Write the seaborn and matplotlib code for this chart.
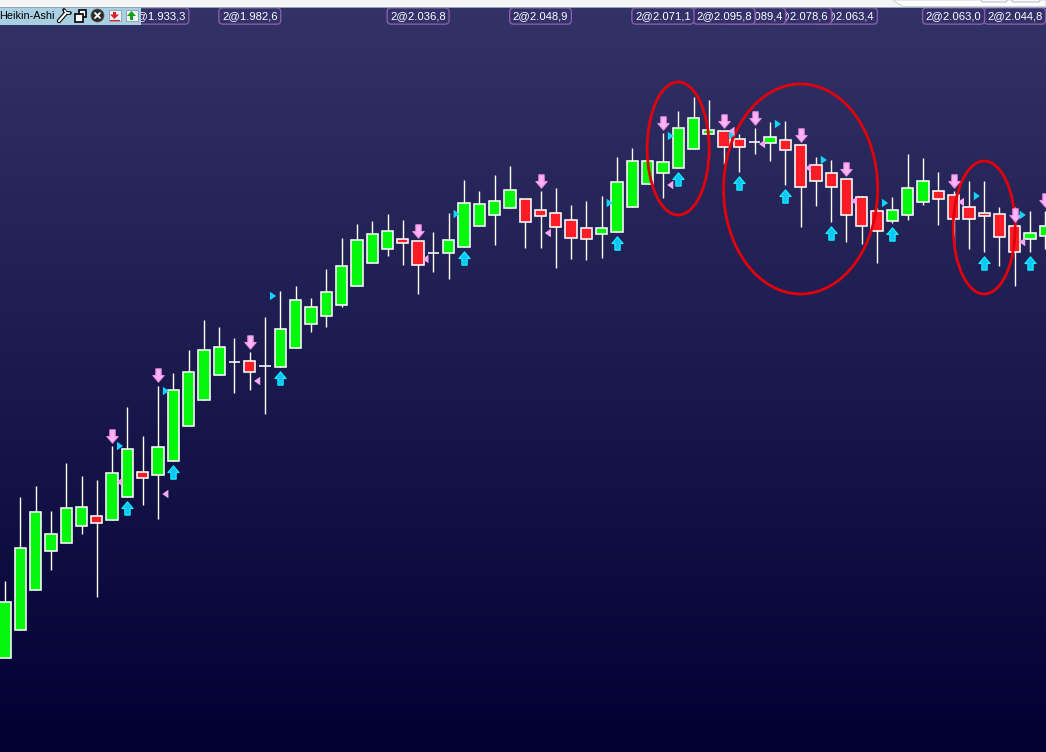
import numpy as np
import pandas as pd
import seaborn as sns
import matplotlib.pyplot as plt
from matplotlib.path import Path
from matplotlib.transforms import Affine2D
from matplotlib.patches import Ellipse, Rectangle, Circle, Polygon, FancyBboxPatch

# Heikin-Ashi candles, levels (y grows downwards)
wick_top = [581, 497, 486, 511, 463, 476, 480, 446, 407, 436, 386, 373, 350, 320, 327, 338, 352, 317, 291, 286,
            298, 269, 238, 224, 221, 214, 220, 241, 232, 213, 180, 191, 175, 166, 199, 191, 188, 205, 201, 196,
            157, 148, 161, 133, 111, 97, 100, 131, 134, 128, 122, 121, 145, 157, 160, 179, 196, 208, 197, 154,
            158, 172, 191, 181, 181, 207, 207, 211, 211]
body_top = [602, 548, 512, 534, 508, 507, 516, 473, 449, 472, 447, 390, 372, 350, 347, 362, 361, 366, 329, 300,
            307, 292, 266, 240, 234, 231, 239, 241, 253, 240, 203, 204, 201, 190, 199, 210, 213, 220, 228, 228,
            182, 161, 161, 162, 128, 118, 130, 131, 139, 142, 137, 140, 145, 165, 173, 179, 197, 211, 210, 188,
            181, 191, 195, 207, 213, 214, 226, 233, 226]
body_bottom = [658, 630, 590, 551, 543, 526, 523, 520, 497, 478, 475, 461, 426, 400, 375, 362, 372, 366, 367, 348,
               324, 316, 305, 286, 263, 249, 243, 265, 253, 253, 247, 226, 215, 208, 222, 216, 227, 238, 239, 234,
               232, 207, 184, 173, 168, 149, 134, 147, 147, 142, 143, 150, 187, 181, 187, 215, 226, 231, 221, 215,
               202, 199, 219, 219, 216, 237, 252, 239, 236]
wick_bottom = [658, 630, 590, 570, 543, 534, 597, 520, 497, 505, 519, 461, 426, 400, 375, 393, 390, 414, 367, 348,
               332, 327, 307, 286, 263, 256, 265, 294, 272, 279, 247, 226, 245, 208, 248, 248, 268, 259, 260, 258,
               232, 207, 184, 198, 168, 149, 134, 164, 172, 154, 161, 185, 227, 206, 222, 242, 244, 263, 223, 220,
               205, 225, 248, 249, 252, 266, 286, 252, 249]
is_green = [1, 1, 1, 1, 1, 1, 0, 1, 1, 0, 1, 1, 1, 1, 1, 1, 0, 1, 1, 1,
            1, 1, 1, 1, 1, 1, 0, 0, 1, 1, 1, 1, 1, 1, 0, 0, 0, 0, 0, 1,
            1, 1, 1, 1, 1, 1, 1, 0, 0, 1, 1, 0, 0, 0, 0, 0, 0, 0, 1, 1,
            1, 0, 0, 0, 0, 0, 0, 1, 1]

# signals
down_bars = [7, 10, 16, 27, 35, 43, 47, 49, 52, 55, 62, 66, 68]
down_y = [435.5, 374.5, 341.5, 230.5, 180.5, 122.5, 120.5, 117.5, 134.5, 168.5, 180.5, 215, 200]
up_bars = [8, 11, 18, 30, 40, 44, 48, 51, 54, 58, 64, 67]
up_y = [507.5, 471.5, 377.5, 257.5, 242.5, 178.5, 182.5, 195.5, 232.5, 233.5, 262.5, 262.5]
right_tick_y = [446, 391, 296, 214, 203, 136, 135, 124, 160, 203, 196, 215]
left_tick_y = [482, 494, 381, 259, 233, 185, 131, 144, 168, 201, 202, 242]

# order labels, the first ones sit on top of the next ones
label_bars = [10, 16, 27, 35, 43, 47, 49, 52, 55, 62, 66]
label_text = ['2@1.933,3', '2@1.982,6', '2@2.036,8', '2@2.048,9', '2@2.071,1', '2@2.095,8',
              '2@2.089,4', '2@2.078,6', '2@2.063,4', '2@2.063,0', '2@2.044,8']

circle_bars = [44, 52, 64]
circle_y = [148.5, 189, 227.5]
circle_w = [4.05, 10.07, 4.05]
circle_h = [133, 210, 133]

W, H = 1046, 752
BAR_STEP = 15.3
FIRST_BAR_X = 5

sns.set_theme(style='white')
plt.rcParams['font.family'] = ['Liberation Sans', 'DejaVu Sans']

fig = plt.figure(figsize=(W / 100, H / 100), dpi=100)

# background gradient
bg = fig.add_axes([0, 0, 1, 1], zorder=0)
grad = np.linspace(0, 1, 256)[:, None, None]
bg.imshow(np.array([51, 51, 104])[None, None, :] / 255 * (1 - grad) + np.array([0, 0, 51])[None, None, :] / 255 * grad,
          aspect='auto', extent=(0, 1, 0, 1))
bg.axis('off')

ax = fig.add_axes([0, 0, 1, 1], zorder=1)
ax.patch.set_alpha(0)

candles = pd.DataFrame({'bar': np.arange(len(body_top)), 'top': body_top, 'bottom': body_bottom,
                        'high': wick_top, 'low': wick_bottom, 'green': is_green})
candles['size'] = candles['bottom'] - candles['top']

ax.vlines(candles['bar'], candles['high'], candles['low'], color='white', lw=1.0, zorder=1)

for flag, col in [(1, '#03f80c'), (0, '#fb1c26')]:
    part = candles[candles['green'] == flag]
    sns.barplot(data=part, x='bar', y='size', bottom=part['top'].values, native_scale=True, width=0.74,
                color=col, saturation=1, edgecolor='white', linewidth=1.15, errorbar=None, ax=ax, zorder=2)

for b, y, w, h in zip(circle_bars, circle_y, circle_w, circle_h):
    ax.add_patch(Ellipse((b, y), w, h, fill=False, ec='#e4000a', lw=2.0, zorder=3))

# arrow and tick shapes
flip = Affine2D().scale(1, -1)
down_arrow = Path([(-2.6, -6.5), (2.6, -6.5), (2.6, 0), (5.5, 0), (0, 6.5), (-5.5, 0), (-2.6, 0), (-2.6, -6.5)],
                  closed=True).transformed(flip)
up_arrow = Path([(-2.6, 6.5), (2.6, 6.5), (2.6, 0), (5.5, 0), (0, -6.5), (-5.5, 0), (-2.6, 0), (-2.6, 6.5)],
                closed=True).transformed(flip)
right_tick = Path([(-2.5, -3.5), (2.5, 0), (-2.5, 3.5), (-2.5, -3.5)], closed=True)
left_tick = Path([(2.5, -3.5), (-2.5, 0), (2.5, 3.5), (2.5, -3.5)], closed=True)

sns.scatterplot(x=down_bars, y=down_y, marker=down_arrow, s=92, color='#fdb4f4', edgecolor='#f08ce6',
                linewidth=0.8, ax=ax, zorder=4)
sns.scatterplot(x=up_bars, y=up_y, marker=up_arrow, s=92, color='#10c4f4', edgecolor='#12f4ff',
                linewidth=0.8, ax=ax, zorder=4)
sns.scatterplot(x=np.array(up_bars) - 0.48, y=right_tick_y, marker=right_tick, s=38, color='#14d4f8',
                edgecolor='none', linewidth=0, ax=ax, zorder=4)
sns.scatterplot(x=np.array(down_bars[:-1]) + 0.48, y=left_tick_y, marker=left_tick, s=38, color='#f8a8f0',
                edgecolor='none', linewidth=0, ax=ax, zorder=4)

# order labels along the top
for i, (b, txt) in enumerate(zip(label_bars, label_text)):
    ax.text(b, 16, txt, color='white', fontsize=8.1, ha='center', va='center', zorder=20 - i,
            bbox=dict(boxstyle='round,pad=0.28,rounding_size=0.35', fc='#33306a', ec='#865fa6', lw=1.0))

ax.set_xlim(-FIRST_BAR_X / BAR_STEP, (W - FIRST_BAR_X) / BAR_STEP)
ax.set_ylim(H, 0)
ax.axis('off')

# window chrome, in pixels
ui = fig.add_axes([0, 0, 1, 1], zorder=2)
ui.set_xlim(0, W)
ui.set_ylim(H, 0)
ui.axis('off')
ui.patch.set_alpha(0)

ui.add_patch(Rectangle((0, 0), W, 7, fc='#f4f4f4', ec='none'))
ui.add_patch(Rectangle((0, 6.6), W, 1, fc='#9aa6b4', ec='none'))
ui.add_patch(Polygon([(893, 0), (897, 3), (903, 6.5), (1046, 6.5), (1046, 0)], fc='white', ec='#c4ccd4', lw=0.6))
ui.add_patch(FancyBboxPatch((981, -6), 26, 8, boxstyle='round,pad=0,rounding_size=2', fc='#f8f8f8', ec='#b0b8c0', lw=0.7))
ui.add_patch(FancyBboxPatch((1012, -6), 28, 8, boxstyle='round,pad=0,rounding_size=2', fc='#f8f8f8', ec='#b0b8c0', lw=0.7))

ui.add_patch(Rectangle((0, 7.5), 141, 17, fc='#a9d0e2', ec='none', zorder=5))
ui.text(-0.5, 16, 'Heikin-Ashi', color='black', fontsize=7.8, va='center', ha='left', zorder=6)

# wrench
ui.plot([59, 66], [21, 13], color='black', lw=3.2, solid_capstyle='round', zorder=6)
ui.plot([59, 66], [21, 13], color='white', lw=1.6, solid_capstyle='round', zorder=7)
ui.plot([64, 66, 70], [10, 13, 13], color='black', lw=2.6, zorder=6)
ui.plot([64.5, 66.5, 69.5], [10.5, 13, 13], color='white', lw=1.2, zorder=7)
# copy windows
ui.add_patch(Rectangle((79, 9.5), 7, 7.5, fc='white', ec='black', lw=1.2, zorder=6))
ui.add_patch(Rectangle((75, 14), 8, 7.5, fc='white', ec='black', lw=1.2, zorder=7))
# close
ui.add_patch(Circle((97.5, 15.5), 6.5, fc='#2c2c2c', ec='#555555', lw=0.5, zorder=6))
ui.plot([95, 100], [13, 18], color='white', lw=1.3, zorder=7)
ui.plot([95, 100], [18, 13], color='white', lw=1.3, zorder=7)
# scroll icons
ui.add_patch(Rectangle((108.5, 9.5), 12, 11.5, fc='#eef4f8', ec='#8ea6b8', lw=0.7, zorder=6))
ui.add_patch(Polygon([(110, 14.5), (119, 14.5), (114.5, 19)], fc='#e02020', ec='none', zorder=7))
ui.add_patch(Rectangle((113, 11.5), 3, 4, fc='#e02020', ec='none', zorder=7))
ui.plot([110, 119], [20, 20], color='#e02020', lw=0.8, zorder=7)
ui.add_patch(Rectangle((125.5, 9.5), 12, 11.5, fc='#eef4f8', ec='#8ea6b8', lw=0.7, zorder=6))
ui.add_patch(Polygon([(127, 16), (136, 16), (131.5, 11)], fc='#10a010', ec='none', zorder=7))
ui.add_patch(Rectangle((130, 15.5), 3, 4, fc='#10a010', ec='none', zorder=7))

fig.savefig('out.png', dpi=100)
plt.close(fig)
